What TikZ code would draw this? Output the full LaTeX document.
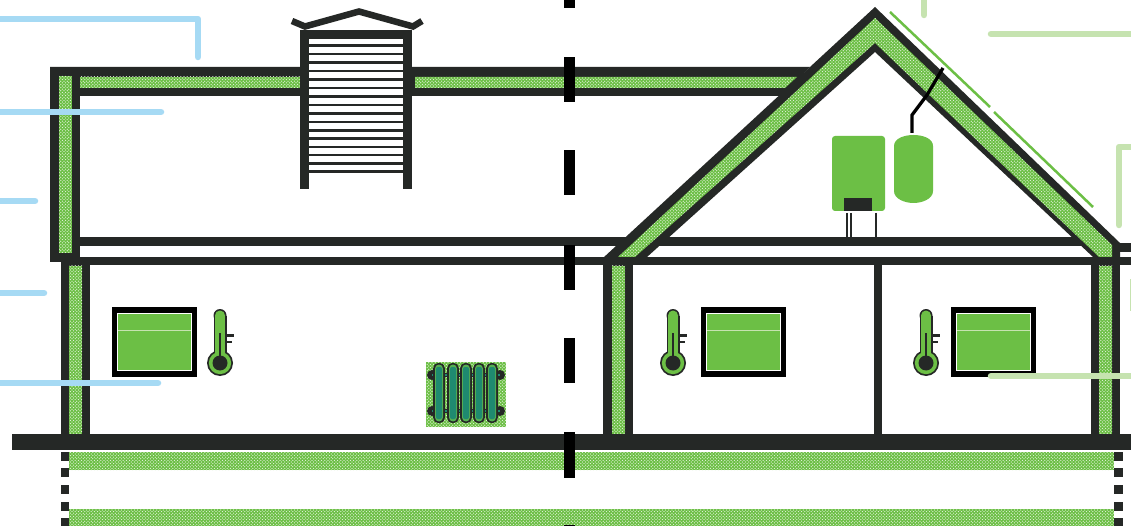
\documentclass[tikz,border=0pt]{standalone}
\usetikzlibrary{patterns}
\definecolor{wall}{HTML}{252826}
\definecolor{leaf}{HTML}{6CBF45}
\definecolor{sky}{HTML}{A6DAF4}
\definecolor{pale}{HTML}{C6E3B0}
\definecolor{teal}{HTML}{1F8A70}
\pgfdeclarepatternformonly{insuldots}{\pgfqpoint{-1pt}{-1pt}}{\pgfqpoint{3pt}{3pt}}{\pgfqpoint{3.2pt}{3.2pt}}{%
  \pgfpathcircle{\pgfqpoint{0pt}{0pt}}{0.62pt}
  \pgfpathcircle{\pgfqpoint{1.6pt}{1.6pt}}{0.62pt}
  \pgfusepath{fill}}
\tikzset{
 solid/.style={fill=wall,draw=none},
 insul/.style={fill=leaf,draw=none,postaction={pattern=insuldots,pattern color=white!85!leaf}},
 skyline/.style={draw=sky,line width=6.5pt,line cap=round,line join=round},
 paleline/.style={draw=pale,line width=6.5pt,line cap=round,line join=round},
 centredash/.style={fill=black,draw=none},
 pipe/.style={draw=wall,line width=1.3pt},
}
\newcommand{\thermo}[1]{%
 \begin{scope}[shift={(#1,0)}]
  \fill[wall] (0,315.5) circle (6.5);
  \fill[wall] (-6.5,315.5) rectangle (6.5,355);
  \fill[wall] (0,363) circle (13);
  \fill[leaf] (0,315.5) circle (5);
  \fill[leaf] (-5,315.5) rectangle (5,356);
  \fill[leaf] (0,363) circle (11.2);
  \fill[wall] (0,363) circle (7.5);
  \fill[wall] (-1,333) rectangle (1,360);
  \fill[wall] (6,334) rectangle (14,336.5);
  \fill[wall] (6,340.5) rectangle (11.5,342.5);
 \end{scope}}
\newcommand{\glazing}[1]{%
 \begin{scope}[shift={(#1,0)}]
  \fill[black] (0,307) rectangle (85.5,377);
  \fill[white] (5.5,312.5) rectangle (80.5,371);
  \fill[leaf] (6.5,313.5) rectangle (79.5,370);
  \fill[pale] (6.5,329.5) rectangle (79.5,331.3);
 \end{scope}}
\begin{document}
\begin{tikzpicture}[x=1pt,y=-1pt]
\useasboundingbox (0,0) rectangle (1131,526);
\fill[white] (0,0) rectangle (1131,526);
% flat roof and upper wall
\path[solid] (50,67) -- (810,67) -- (780,96) -- (50,96) -- cycle;
\path[solid] (50,67) rectangle (80,262);
\path[insul] (59,76) rectangle (71.5,253);
\path[insul] (80,77) rectangle (300,88);
\path[insul] (415,77) -- (797,77) -- (785,88) -- (415,88) -- cycle;
% ceiling
\path[solid] (80,237) rectangle (1100,246);
\path[solid] (1110,243) rectangle (1131,252);
\path[solid] (61,257) rectangle (1131,265.5);
% chimney
\path[solid] (300,30) rectangle (309,189);
\path[solid] (403,30) rectangle (412,189);
\path[solid] (300,30) rectangle (412,39);
\fill[white] (309,39) rectangle (403,175);
\foreach \yy in {45.7,54,62.5,71,79.5,88,96.5,105,113.5,122,130.5,138.5,147,155,163.5,171.7}
  \path[solid] (309,\yy-1.2) rectangle (403,\yy+1.2);
\draw[wall,line width=6.5pt,line join=miter] (292,21) -- (305,26.5) -- (359,11.5) -- (413,26.5) -- (422,21);
% lower walls and floor
\path[solid] (61,262) rectangle (90,435);
\path[insul] (69,266) rectangle (82,434);
\path[solid] (603,257) rectangle (633,435);
\path[insul] (612,266) rectangle (625,434);
\path[solid] (1091,257) rectangle (1120,435);
\path[insul] (1099,266) rectangle (1112,434);
\path[solid] (874,260) rectangle (882,435);
\path[solid] (12,433.5) rectangle (1131,450);
% ground slabs
\path[insul] (69,452) rectangle (1114,470);
\path[insul] (69,509) rectangle (1114,526);
\foreach \yy in {452,468,485,502,518} {
  \path[solid] (61,\yy) rectangle (69,\yy+8.5);
  \path[solid] (1114,\yy) rectangle (1123,\yy+8.5);
}
% gable
\path[solid] (875,7) -- (1120,243) -- (1120,262) -- (1098,262) -- (1093,257) -- (875,52) -- (647,257) -- (640,262) -- (603,262) -- (603,258) -- cycle;
\path[insul] (875,18) -- (1112,245) -- (1112,257) -- (1099,257) -- (875,43) -- (635,257) -- (618,257) -- cycle;
% solar panel and pipe
\draw[leaf,line width=2.5pt] (890,12) -- (990,107);
\draw[leaf,line width=2.5pt] (994,112) -- (1093,207);
\draw[black,line width=3.3pt] (912,133) -- (912,115) -- (927,95) -- (943,68);
% boiler and tank
\fill[leaf,rounded corners=3pt] (832,136) rectangle (885,211);
\fill[wall] (844,198) rectangle (872,211);
\draw[pipe] (847,213) -- (847,237);
\draw[pipe] (851,213) -- (851,237);
\draw[pipe] (876,213) -- (876,237);
\fill[leaf] (894,146) .. controls (894,138) and (905,135) .. (913.5,135) .. controls (922,135) and (933,138) .. (933,146) -- (933,191) .. controls (933,199) and (922,203) .. (913.5,203) .. controls (905,203) and (894,199) .. (894,191) -- cycle;
% windows and thermometers
\glazing{111.5} \glazing{700.5} \glazing{950.5}
\thermo{220} \thermo{673} \thermo{926}
% radiator
\path[insul] (426,362) rectangle (506,427);
\foreach \yy in {375,411} {
  \fill[wall] (432,\yy) circle (5);
  \fill[wall] (500,\yy) circle (5);
  \fill[wall] (432,\yy-2.2) rectangle (500,\yy+2.2);
  \fill[teal] (432,\yy-0.8) rectangle (500,\yy+0.8);
}
\foreach \xx in {439,453,466,479,492} {
  \fill[wall,rounded corners=5pt] (\xx-5.8,363) rectangle (\xx+5.8,423);
  \fill[leaf!70!teal,rounded corners=4pt] (\xx-4,364.5) rectangle (\xx+4,421.5);
  \fill[teal,rounded corners=2pt] (\xx-3,367) rectangle (\xx+3,419);
}
% centre line
\foreach \a/\b in {0/8,57/102,150/195,245/290,338/383,432/478,525/526}
  \path[centredash] (563.5,\a) rectangle (574.5,\b);
% leader lines
\draw[skyline] (-5,19) -- (198,19) -- (198,57);
\draw[skyline] (-5,112) -- (161,112);
\draw[skyline] (-5,201) -- (35,201);
\draw[skyline] (-5,293) -- (44,293);
\draw[skyline] (-5,383) -- (158,383);
\draw[paleline] (924,-5) -- (924,15);
\draw[paleline] (991,34) -- (1136,34);
\draw[paleline] (1136,147) -- (1119,147) -- (1119,225);
\draw[paleline] (991,376) -- (1136,376);
\fill[pale] (1129.5,279) rectangle (1131,311);
\end{tikzpicture}
\end{document}
